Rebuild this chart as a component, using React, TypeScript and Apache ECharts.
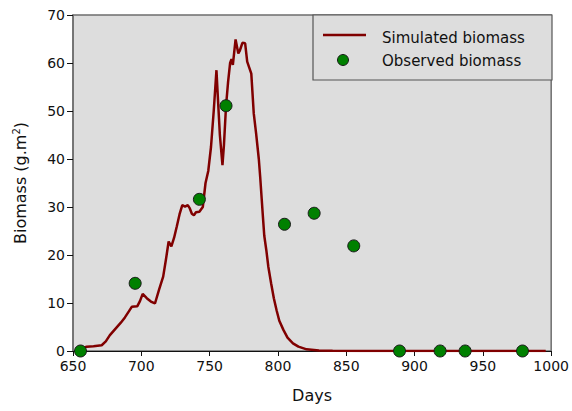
import React, { useEffect, useRef } from "react";
import * as echarts from "echarts";

const simDays = [657, 660, 665, 671, 674, 677, 681, 685, 688, 691, 693, 697, 699, 701, 704, 707, 710, 713, 716, 718, 720, 722, 724, 726, 728, 730, 732, 734, 735.5, 737, 738.5, 740, 742.5, 745, 747, 749, 751, 753, 755, 756, 757.5, 759.4, 760.5, 762, 763.5, 765, 766, 767, 769, 771, 772, 774, 776, 777.5, 780.5, 782.3, 784, 786, 787, 789, 790, 791.5, 793, 795, 797, 799, 801, 804, 807, 811, 815, 821, 830, 840, 860, 900, 950, 996];
const simValues = [0.6, 0.9, 1.0, 1.2, 2.0, 3.3, 4.6, 5.9, 7.0, 8.3, 9.2, 9.3, 10.4, 11.9, 11.0, 10.3, 9.9, 12.8, 15.5, 19.0, 22.8, 21.8, 23.6, 26.0, 28.5, 30.4, 30.1, 30.4, 29.7, 28.6, 28.3, 28.9, 29.0, 30.0, 35.0, 37.5, 42.5, 50.0, 58.5, 53.0, 45.0, 38.7, 43.0, 51.0, 56.0, 60.0, 60.8, 59.6, 64.9, 62.0, 62.5, 64.2, 64.1, 60.3, 57.8, 49.5, 45.4, 40.0, 36.3, 28.0, 24.0, 21.0, 17.5, 14.1, 11.0, 8.5, 6.3, 4.4, 2.8, 1.6, 0.9, 0.35, 0.1, 0.03, 0, 0, 0, 0];

const obsDays = [655.5, 695.5, 742.5, 762, 804.8, 826.5, 855.5, 889, 918.7, 937, 979];
const obsValues = [0, 14.1, 31.6, 51.1, 26.4, 28.7, 21.9, 0, 0, 0, 0];

const legendLabels = ["Simulated biomass", "Observed biomass"];

const xTicks = { min: 650, max: 1000, interval: 50 };
const yTicks = { min: 0, max: 70, interval: 10 };

const FONT = "DejaVu Sans";
const LINE_COLOR = "#800000";
const DOT_COLOR = "#008000";

export default function App() {
  const ref = useRef<HTMLDivElement>(null);
  useEffect(() => {
    if (!ref.current) return;
    const chart = echarts.init(ref.current, undefined, { renderer: "svg" });
    chart.setOption({
      animation: false,
      backgroundColor: "#ffffff",
      grid: {
        left: 73,
        right: 20,
        top: 15,
        bottom: 60,
        show: true,
        backgroundColor: "#dddddd",
        borderColor: "#6e6e6e",
        borderWidth: 1.5,
      },
      graphic: [
        {
          type: "group",
          z: 10,
          children: [
            {
              type: "rect",
              shape: { x: 313, y: 15, width: 239, height: 65 },
              style: { fill: "#dddddd", stroke: "#555555", lineWidth: 1.2 },
            },
            {
              type: "line",
              shape: { x1: 323, y1: 35, x2: 366, y2: 35 },
              style: { stroke: LINE_COLOR, lineWidth: 2.5 },
            },
            {
              type: "circle",
              shape: { cx: 343, cy: 60, r: 5.5 },
              style: { fill: DOT_COLOR, stroke: "#1a1a1a", lineWidth: 1 },
            },
            {
              type: "text",
              x: 382,
              y: 38,
              style: { text: legendLabels[0], font: `15px "${FONT}"`, fill: "#111", verticalAlign: "middle", align: "left" },
            },
            {
              type: "text",
              x: 382,
              y: 61,
              style: { text: legendLabels[1], font: `15px "${FONT}"`, fill: "#111", verticalAlign: "middle", align: "left" },
            },
          ],
        },
      ],
      xAxis: {
        type: "value",
        min: xTicks.min,
        max: xTicks.max,
        interval: xTicks.interval,
        name: "Days",
        nameLocation: "middle",
        nameGap: 36,
        nameTextStyle: { fontFamily: FONT, fontSize: 16, color: "#111" },
        axisLine: { show: true, lineStyle: { color: "#111", width: 1.2 } },
        axisTick: { show: true, length: 5, lineStyle: { color: "#111" } },
        axisLabel: { fontFamily: FONT, fontSize: 14, color: "#111", margin: 8, formatter: (v: number) => String(v) },
        splitLine: { show: false },
      },
      yAxis: {
        type: "value",
        min: yTicks.min,
        max: yTicks.max,
        interval: yTicks.interval,
        name: "Biomass (g.m{sup|2})",
        nameLocation: "middle",
        nameGap: 44,
        nameTextStyle: {
          fontFamily: FONT,
          fontSize: 16,
          color: "#111",
          rich: {
            sup: { fontFamily: FONT, fontSize: 10, color: "#111", verticalAlign: "bottom", padding: [0, 0, 8, 0] },
          },
        },
        axisLine: { show: true, lineStyle: { color: "#6e6e6e", width: 1.5 } },
        axisTick: { show: true, length: 6, lineStyle: { color: "#111" } },
        axisLabel: { fontFamily: FONT, fontSize: 14, color: "#111", margin: 8, formatter: (v: number) => String(v) },
        splitLine: { show: false },
      },
      series: [
        {
          name: legendLabels[0],
          type: "line",
          symbol: "none",
          data: simDays.map((d, i) => [d, simValues[i]]),
          lineStyle: { color: LINE_COLOR, width: 2.5 },
          itemStyle: { color: LINE_COLOR },
          z: 2,
        },
        {
          name: legendLabels[1],
          type: "scatter",
          symbol: "circle",
          symbolSize: 12,
          data: obsDays.map((d, i) => [d, obsValues[i]]),
          itemStyle: { color: DOT_COLOR, opacity: 1, borderColor: "#1a1a1a", borderWidth: 1 },
          z: 3,
        },
      ],
    });
    return () => chart.dispose();
  }, []);
  return <div ref={ref} style={{ width: 572, height: 411, position: "absolute", left: 0, top: 0 }} />;
}
